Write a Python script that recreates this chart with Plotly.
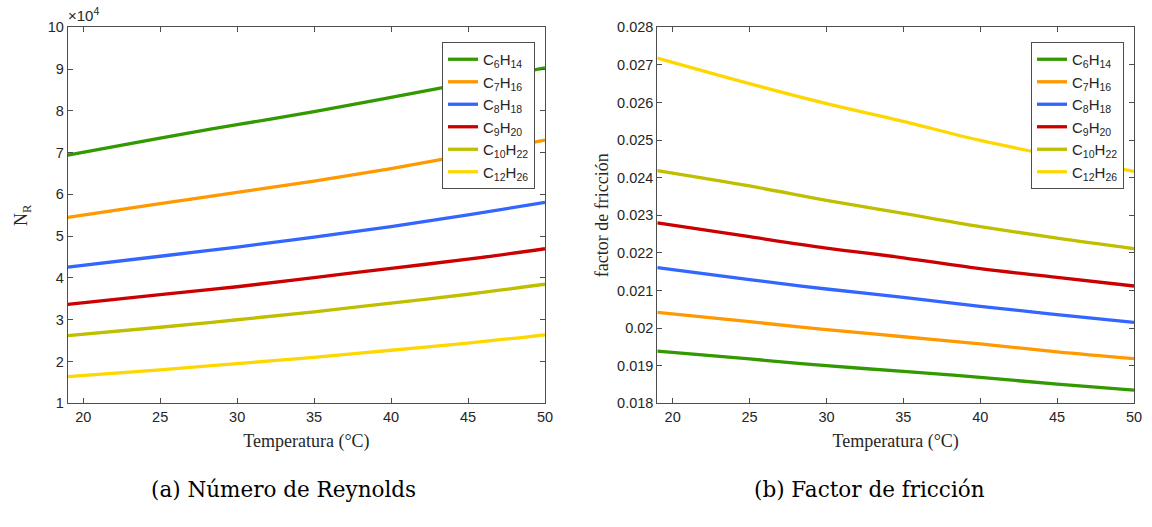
import plotly.graph_objects as go

temps = [19, 25, 30, 35, 40, 45, 50]
names = ["C<sub>6</sub>H<sub>14</sub>", "C<sub>7</sub>H<sub>16</sub>", "C<sub>8</sub>H<sub>18</sub>",
         "C<sub>9</sub>H<sub>20</sub>", "C<sub>10</sub>H<sub>22</sub>", "C<sub>12</sub>H<sub>26</sub>"]
colors = ["#339900", "#FF9900", "#3366FF", "#CC0000", "#BFBF00", "#FFD700"]

# Reynolds number, in units of 1e4
re_c6 = [6.94, 7.35, 7.67, 7.98, 8.32, 8.67, 9.03]
re_c7 = [5.45, 5.78, 6.05, 6.32, 6.62, 6.95, 7.30]
re_c8 = [4.26, 4.52, 4.74, 4.98, 5.23, 5.51, 5.81]
re_c9 = [3.37, 3.60, 3.79, 4.01, 4.23, 4.45, 4.70]
re_c10 = [2.62, 2.82, 3.00, 3.19, 3.40, 3.61, 3.85]
re_c12 = [1.64, 1.80, 1.95, 2.10, 2.27, 2.44, 2.64]

# Friction factor
f_c6 = [0.01939, 0.01918, 0.01900, 0.01885, 0.01869, 0.01851, 0.01835]
f_c7 = [0.02042, 0.02017, 0.01996, 0.01977, 0.01958, 0.01937, 0.01919]
f_c8 = [0.02161, 0.02129, 0.02104, 0.02082, 0.02058, 0.02036, 0.02015]
f_c9 = [0.02280, 0.02243, 0.02213, 0.02187, 0.02158, 0.02135, 0.02112]
f_c10 = [0.02419, 0.02378, 0.02340, 0.02305, 0.02270, 0.02239, 0.02211]
f_c12 = [0.02718, 0.02650, 0.02597, 0.02550, 0.02499, 0.02457, 0.02417]

re_series = [re_c6, re_c7, re_c8, re_c9, re_c10, re_c12]
f_series = [f_c6, f_c7, f_c8, f_c9, f_c10, f_c12]

x_ticks = [20, 25, 30, 35, 40, 45, 50]
re_ticks = [1, 2, 3, 4, 5, 6, 7, 8, 9, 10]
f_ticks = [0.018, 0.019, 0.020, 0.021, 0.022, 0.023, 0.024, 0.025, 0.026, 0.027, 0.028]

fig = go.Figure()
for name, col, ys in zip(names, colors, re_series):
    fig.add_trace(go.Scatter(x=temps, y=ys, name=name, mode="lines", line=dict(color=col, width=3.3, shape="spline"),
                             xaxis="x", yaxis="y", legend="legend"))
for name, col, ys in zip(names, colors, f_series):
    fig.add_trace(go.Scatter(x=temps, y=ys, name=name, mode="lines", line=dict(color=col, width=3.3, shape="spline"),
                             xaxis="x2", yaxis="y2", legend="legend2"))

W, H = 1152, 527
def px(x):
    return x / W
def py(y):
    return 1 - y / H

axcol = "#4d4d4d"
tickfont = dict(family="Liberation Sans, Arial", size=14.5, color="#262626")
titlefont = dict(family="Liberation Serif, Times New Roman", size=18, color="#262626")
legfont = dict(family="Liberation Sans, Arial", size=15, color="#262626")
common_ax = dict(showline=True, linecolor=axcol, linewidth=1, mirror="ticks", ticks="inside", ticklen=5,
                 tickcolor=axcol, showgrid=False, zeroline=False, tickfont=tickfont, automargin=False)

ydom = [py(403.3), py(27.3)]
fig.update_layout(
    width=W, height=H, margin=dict(l=0, r=0, t=0, b=0, pad=0, autoexpand=False),
    paper_bgcolor="white", plot_bgcolor="white",
    xaxis=dict(domain=[px(67.8), px(545)], range=[19, 50], tickvals=x_ticks, anchor="y",
               title=dict(text="Temperatura (°C)", font=titlefont, standoff=10), **common_ax),
    yaxis=dict(domain=ydom, range=[1, 10], tickvals=re_ticks, anchor="x",
               title=dict(text="N<sub>R</sub>", font=titlefont, standoff=15), **common_ax),
    xaxis2=dict(domain=[px(657.3), px(1134)], range=[19, 50], tickvals=x_ticks, anchor="y2",
                title=dict(text="Temperatura (°C)", font=titlefont, standoff=10), **common_ax),
    yaxis2=dict(domain=ydom, range=[0.018, 0.028], tickvals=f_ticks, ticktext=[f"{v:g}" for v in f_ticks],
                anchor="x2", title=dict(text="factor de fricción", font=titlefont, standoff=3), **common_ax),
    legend=dict(x=px(442), y=py(42), xanchor="left", yanchor="top", bordercolor=axcol, borderwidth=1,
                bgcolor="white", font=legfont, itemwidth=30, tracegroupgap=0),
    legend2=dict(x=px(1031), y=py(42), xanchor="left", yanchor="top", bordercolor=axcol, borderwidth=1,
                 bgcolor="white", font=legfont, itemwidth=30, tracegroupgap=0),
    annotations=[
        dict(text="×10<sup>4</sup>", x=px(66), y=py(26), xref="paper", yref="paper", xanchor="left",
             yanchor="bottom", showarrow=False, font=dict(family="Liberation Sans, Arial", size=15, color="#262626")),
        dict(text="(a) Número de Reynolds", x=px(283), y=py(489), xref="paper", yref="paper",
             xanchor="center", yanchor="middle",
             showarrow=False, font=dict(family="DejaVu Serif", size=21.5, color="black")),
        dict(text="(b) Factor de fricción", x=px(869), y=py(489), xref="paper", yref="paper",
             xanchor="center", yanchor="middle",
             showarrow=False, font=dict(family="DejaVu Serif", size=21.5, color="black")),
    ],
)

fig.write_html(
    "out.html",
    config={"displayModeBar": False},
    post_script=("document.documentElement.style.margin='0px';document.documentElement.style.padding='0px';"
                 "document.documentElement.style.overflow='hidden';"
                 "document.body.style.margin='0px';document.body.style.padding='0px';"
                 "document.body.style.overflow='hidden';"),
)
